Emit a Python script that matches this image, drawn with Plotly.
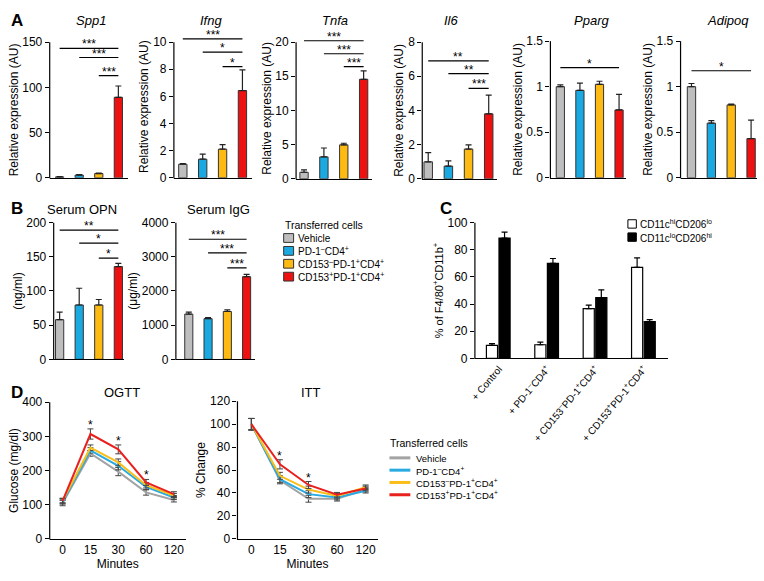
import plotly.graph_objects as go

W, H = 764, 581
FONT = "Liberation Sans, Arial, sans-serif"

# ---------------- data ----------------
groups = ["Vehicle", "PD-1<sup>–</sup>CD4<sup>+</sup>",
          "CD153<sup>–</sup>PD-1<sup>+</sup>CD4<sup>+</sup>",
          "CD153<sup>+</sup>PD-1<sup>+</sup>CD4<sup>+</sup>"]
group_colors = ["#BEBEBE", "#1BA9E1", "#FDBA12", "#EE1111"]
line_colors = ["#A3A3A3", "#29ABE2", "#F9BE1A", "#E8201E"]

spp1_mean = [1.0, 3.0, 4.7, 89.0]
spp1_err = [0.3, 0.4, 0.4, 12.5]
ifng_mean = [1.0, 1.37, 2.11, 6.43]
ifng_err = [0.05, 0.38, 0.34, 1.53]
tnfa_mean = [0.95, 3.2, 4.96, 14.56]
tnfa_err = [0.35, 1.3, 0.24, 1.24]
il6_mean = [0.99, 0.74, 1.74, 3.8]
il6_err = [0.54, 0.31, 0.24, 1.1]
pparg_mean = [1.0, 0.96, 1.026, 0.745]
pparg_err = [0.02, 0.08, 0.034, 0.171]
adipoq_mean = [1.0, 0.60, 0.80, 0.43]
adipoq_err = [0.035, 0.027, 0.01, 0.204]
opn_mean = [58, 79.5, 79.5, 135.7]
opn_err = [11, 24.5, 8, 4.8]
igg_mean = [1324, 1190, 1400, 2419]
igg_err = [57, 29, 48, 67]

# significance bars: (start group index, level, label) -> all end at last group
spp1_sig = [(0, 143, "***"), (1, 133, "***"), (2, 113, "***")]
ifng_sig = [(0, 10.24, "***"), (1, 9.26, "*"), (2, 8.2, "*")]
tnfa_sig = [(0, 20.2, "***"), (1, 18.3, "***"), (2, 16.4, "***")]
il6_sig = [(0, 6.9, "**"), (1, 6.15, "**"), (2, 5.29, "***")]
pparg_sig = [(0, 1.21, "*")]
adipoq_sig = [(0, 1.175, "*")]
opn_sig = [(0, 189, "**"), (1, 170, "*"), (2, 148, "*")]
igg_sig = [(0, 3514, "***"), (1, 3114, "***"), (2, 2676, "***")]

c_groups = ["+ Control", "+ PD-1<sup>–</sup>CD4<sup>+</sup>",
            "+ CD153<sup>–</sup>PD-1<sup>+</sup>CD4<sup>+</sup>",
            "+ CD153<sup>+</sup>PD-1<sup>+</sup>CD4<sup>+</sup>"]
c_series = ["CD11c<sup>hi</sup>CD206<sup>lo</sup>", "CD11c<sup>lo</sup>CD206<sup>hi</sup>"]
c_hi_mean = [9.6, 10.0, 36.7, 67.0]
c_hi_err = [1.3, 2.0, 2.5, 7.0]
c_lo_mean = [88.7, 70.0, 44.8, 27.0]
c_lo_err = [4.3, 3.6, 5.6, 1.5]

minutes = ["0", "15", "30", "60", "120"]
ogtt = [
    [105, 250, 197, 136, 114],
    [108, 259, 214, 152, 121],
    [112, 267, 224, 157, 127],
    [111, 307, 262, 165, 131],
]
ogtt_err = [
    [8, 8, 12, 8, 6],
    [6, 8, 12, 8, 6],
    [6, 8, 10, 8, 6],
    [8, 15, 13, 9, 7],
]
ogtt_star_idx = [1, 2, 3]
itt = [
    [100, 51, 35, 35, 43],
    [100, 52, 39, 36, 42],
    [100, 55, 43, 37.5, 45],
    [100, 65, 47, 38.5, 44],
]
itt_err = [
    [5, 3, 3, 2, 2],
    [5, 3, 3, 2, 2],
    [5, 3, 3, 2, 2],
    [5, 4, 3, 2, 2],
]
itt_star_idx = [1, 2]

# ---------------- helpers ----------------
fig = go.Figure()
layout = {}
shapes = []
annotations = []
counter = [0]


def px(x):
    return x / W


def py(y):
    return 1 - y / H


def add_axes(xl, xr, ytop, ybot, xrange, ytick_top, yrange_top, ytickvals, ytitle,
             tick_size=12, xtickvals=None, xticktext=None,
             xtickangle=None, xtick_size=12, xtitle=None, ytitle_size=12):
    counter[0] += 1
    k = counter[0]
    sx = "" if k == 1 else str(k)
    scale = (ybot - ytop) / ytick_top
    dom_top = ybot - yrange_top * scale
    xa = dict(domain=[px(xl), px(xr)], anchor="y" + sx, range=xrange,
              showline=True, linecolor="black", linewidth=1.2, ticks="",
              showgrid=False, zeroline=False, fixedrange=True,
              showticklabels=xtickvals is not None,
              tickfont=dict(size=xtick_size, color="black", family=FONT))
    if xtickvals is not None:
        xa.update(tickmode="array", tickvals=xtickvals, ticktext=xticktext)
        if xtickangle is not None:
            xa.update(tickangle=xtickangle)
    if xtitle:
        xa.update(title=dict(text=xtitle, font=dict(size=12, family=FONT, color="black"), standoff=2))
    ya = dict(domain=[py(ybot), py(dom_top)], anchor="x" + sx, range=[0, yrange_top],
              showline=False, ticks="outside", ticklen=4, tickwidth=1.2, tickcolor="black",
              tickmode="array", tickvals=ytickvals, showgrid=False, zeroline=False, fixedrange=True,
              tickfont=dict(size=tick_size, color="black", family=FONT),
              title=dict(text=ytitle, font=dict(size=ytitle_size, family=FONT, color="black"), standoff=1))
    layout["xaxis" + sx] = xa
    layout["yaxis" + sx] = ya
    # y-axis line only up to the top tick
    shapes.append(dict(type="line", xref="paper", yref="paper", x0=px(xl), x1=px(xl),
                       y0=py(ybot + 0.6), y1=py(ytop), line=dict(color="black", width=1.2)))
    return "x" + sx, "y" + sx


def bar_panel(xref_yref, means, errs, sig):
    xr, yr = xref_yref
    for i, g in enumerate(groups):
        fig.add_trace(go.Bar(
            x=[i], y=[means[i]], width=0.42, xaxis=xr, yaxis=yr,
            marker=dict(color=group_colors[i], line=dict(color="#333333", width=1)),
            error_y=dict(type="data", symmetric=False, array=[errs[i]], arrayminus=[0],
                         color="#222222", thickness=1.2, width=3),
            name=g, showlegend=False))
    last = len(groups) - 1
    for start, level, lab in sig:
        shapes.append(dict(type="line", xref=xr, yref=yr, x0=start, x1=last, y0=level, y1=level,
                           line=dict(color="black", width=1.2)))
        annotations.append(dict(xref=xr, yref=yr, x=(start + last) / 2, y=level, text=lab,
                                showarrow=False, yanchor="bottom", yshift=-5,
                                font=dict(size=12, family=FONT, color="black")))


def title(x, y, text, size=13, italic=False):
    t = f"<i>{text}</i>" if italic else text
    annotations.append(dict(xref="paper", yref="paper", x=px(x), y=py(y), text=t, showarrow=False,
                            xanchor="center", yanchor="middle",
                            font=dict(size=size, family=FONT, color="black")))


def letter(x, y, text):
    annotations.append(dict(xref="paper", yref="paper", x=px(x), y=py(y), text=f"<b>{text}</b>",
                            showarrow=False, xanchor="left", yanchor="middle",
                            font=dict(size=17, family=FONT, color="black")))


def text_left(x, y, text, size=10.5):
    annotations.append(dict(xref="paper", yref="paper", x=px(x), y=py(y), text=text, showarrow=False,
                            xanchor="left", yanchor="middle",
                            font=dict(size=size, family=FONT, color="black")))


def xr_from(axis_px, first_px, step_px, end_px):
    return [(axis_px - first_px) / step_px, (end_px - first_px) / step_px]


# ---------------- panel A ----------------
RE = "Relative expression (AU)"
ax = add_axes(45, 124, 36, 175, xr_from(45, 55, 19.7, 124), 150, 150, [0, 50, 100, 150], RE)
bar_panel(ax, spp1_mean, spp1_err, spp1_sig)
ax = add_axes(170, 249, 36, 175, xr_from(170, 179, 20, 249), 10, 10.5, [0, 2, 4, 6, 8, 10], RE)
bar_panel(ax, ifng_mean, ifng_err, ifng_sig)
ax = add_axes(293, 369, 36, 176, xr_from(293, 301, 20, 369), 20, 20.6, [0, 5, 10, 15, 20], RE)
bar_panel(ax, tnfa_mean, tnfa_err, tnfa_sig)
ax = add_axes(420, 495, 36, 176, xr_from(420, 426, 20.3, 495), 8, 8, [0, 2, 4, 6, 8], RE)
bar_panel(ax, il6_mean, il6_err, il6_sig)
ax = add_axes(549, 625, 35, 175, xr_from(549, 559, 19.7, 625), 1.5, 1.5, [0, 0.5, 1, 1.5], RE)
layout["yaxis5"]["ticktext"] = ["0", "0.5", "1", "1.5"]
bar_panel(ax, pparg_mean, pparg_err, pparg_sig)
ax = add_axes(680, 757, 35, 175, xr_from(680, 691, 20, 757), 1.5, 1.5, [0, 0.5, 1, 1.5], RE)
layout["yaxis6"]["ticktext"] = ["0", "0.5", "1", "1.5"]
bar_panel(ax, adipoq_mean, adipoq_err, adipoq_sig)

letter(4, 14, "A")
for xc, t in [(87, "Spp1"), (207, "Ifng"), (332, "Tnfa"), (449, "Il6"), (590, "Pparg"), (728, "Adipoq")]:
    title(xc, 14, t, italic=True)

# ---------------- panel B ----------------
ax = add_axes(49, 120, 221, 361, xr_from(49, 55, 19.7, 120), 200, 200, [0, 50, 100, 150, 200], "(ng/ml)")
bar_panel(ax, opn_mean, opn_err, opn_sig)
ax = add_axes(172, 252, 221, 361, xr_from(172, 185, 19.4, 252), 4000, 4000, [0, 1000, 2000, 3000, 4000], "(μg/ml)")
bar_panel(ax, igg_mean, igg_err, igg_sig)
letter(4, 206, "B")
title(78, 208, "Serum OPN")
title(215, 208, "Serum IgG")

# legend B (manual, compact rows)
text_left(280, 223, "Transferred cells")
for i, g in enumerate(groups):
    yc = 236.7 + 13.2 * i
    shapes.append(dict(type="rect", xref="paper", yref="paper", x0=px(280.5), x1=px(290.5),
                       y0=py(yc + 4.5), y1=py(yc - 4.5), fillcolor=group_colors[i],
                       line=dict(color="#333333", width=1)))
    text_left(293, yc + 0.5, g, size=10)

# ---------------- panel C ----------------
ax = add_axes(473, 667, 221, 360, xr_from(473, 497, 48.7, 667), 100, 100, [0, 20, 40, 60, 80, 100],
              "% of F4/80<sup>+</sup>CD11b<sup>+</sup>", xtickvals=[0, 1, 2, 3], xticktext=c_groups,
              xtickangle=-50, xtick_size=10, ytitle_size=11)
xr, yr = ax
fig.add_trace(go.Bar(x=list(range(len(c_groups))), y=c_hi_mean, width=0.23, offset=-0.255,
                     xaxis=xr, yaxis=yr, name=c_series[0], showlegend=False,
                     marker=dict(color="white", line=dict(color="black", width=1.2)),
                     error_y=dict(type="data", symmetric=False, array=c_hi_err,
                                  arrayminus=[0] * len(c_hi_err), color="black", thickness=1.2, width=3)))
fig.add_trace(go.Bar(x=list(range(len(c_groups))), y=c_lo_mean, width=0.23, offset=0.005,
                     xaxis=xr, yaxis=yr, name=c_series[1], showlegend=False,
                     marker=dict(color="black", line=dict(color="black", width=1.2)),
                     error_y=dict(type="data", symmetric=False, array=c_lo_err,
                                  arrayminus=[0] * len(c_lo_err), color="black", thickness=1.2, width=3)))
letter(436, 206, "C")
for i, (s, fc) in enumerate(zip(c_series, ["white", "black"])):
    yc = 222.3 + 13.5 * i
    shapes.append(dict(type="rect", xref="paper", yref="paper", x0=px(627), x1=px(635.5),
                       y0=py(yc + 4.3), y1=py(yc - 4.3), fillcolor=fc,
                       line=dict(color="black", width=1)))
    text_left(637.5, yc + 0.5, s, size=10)

# ---------------- panel D ----------------
def line_panel(ax, data, errs, star_idx):
    xr, yr = ax
    for i, g in enumerate(groups):
        fig.add_trace(go.Scatter(x=minutes, y=data[i], mode="lines", xaxis=xr, yaxis=yr, name=g,
                                 showlegend=False, line=dict(color=line_colors[i], width=2),
                                 error_y=dict(type="data", array=errs[i], color="#444444",
                                              thickness=1, width=3)))
    red = data[-1]
    rerr = errs[-1]
    for j in star_idx:
        annotations.append(dict(xref=xr, yref=yr, x=j, y=red[j] + rerr[j], text="*", showarrow=False,
                                yanchor="bottom", yshift=-5,
                                font=dict(size=12, family=FONT, color="black")))


ax = add_axes(45, 182, 405, 545, xr_from(45, 58, 28, 182), 400, 400, [0, 100, 200, 300, 400],
              "Glucose (mg/dl)", xtickvals=minutes, xticktext=minutes, xtitle="Minutes")
layout["xaxis" + str(counter[0])]["type"] = "category"
line_panel(ax, ogtt, ogtt_err, ogtt_star_idx)

ax = add_axes(234, 375, 404, 545, xr_from(234, 248, 28.75, 375), 120, 120, [0, 20, 40, 60, 80, 100, 120],
              "% Change", xtickvals=minutes, xticktext=minutes, xtitle="Minutes")
layout["xaxis" + str(counter[0])]["type"] = "category"
line_panel(ax, itt, itt_err, itt_star_idx)

letter(4, 395, "D")
title(118, 395, "OGTT")
title(308, 395, "ITT")

text_left(386, 447, "Transferred cells")
for i, g in enumerate(groups):
    yc = 462 + 12.6 * i
    shapes.append(dict(type="line", xref="paper", yref="paper", x0=px(387), x1=px(408),
                       y0=py(yc), y1=py(yc), line=dict(color=line_colors[i], width=3)))
    text_left(412, yc + 0.5, g, size=9.5)

fig.update_layout(
    width=W, height=H, autosize=False,
    margin=dict(l=0, r=0, t=0, b=0),
    paper_bgcolor="white", plot_bgcolor="white",
    barmode="overlay", showlegend=False,
    font=dict(family=FONT, color="black", size=12),
    shapes=shapes, annotations=annotations,
    **layout,
)

fig.write_html("out.html", config={"displayModeBar": False},
               post_script="document.body.style.margin='0';document.body.style.overflow='hidden';")
